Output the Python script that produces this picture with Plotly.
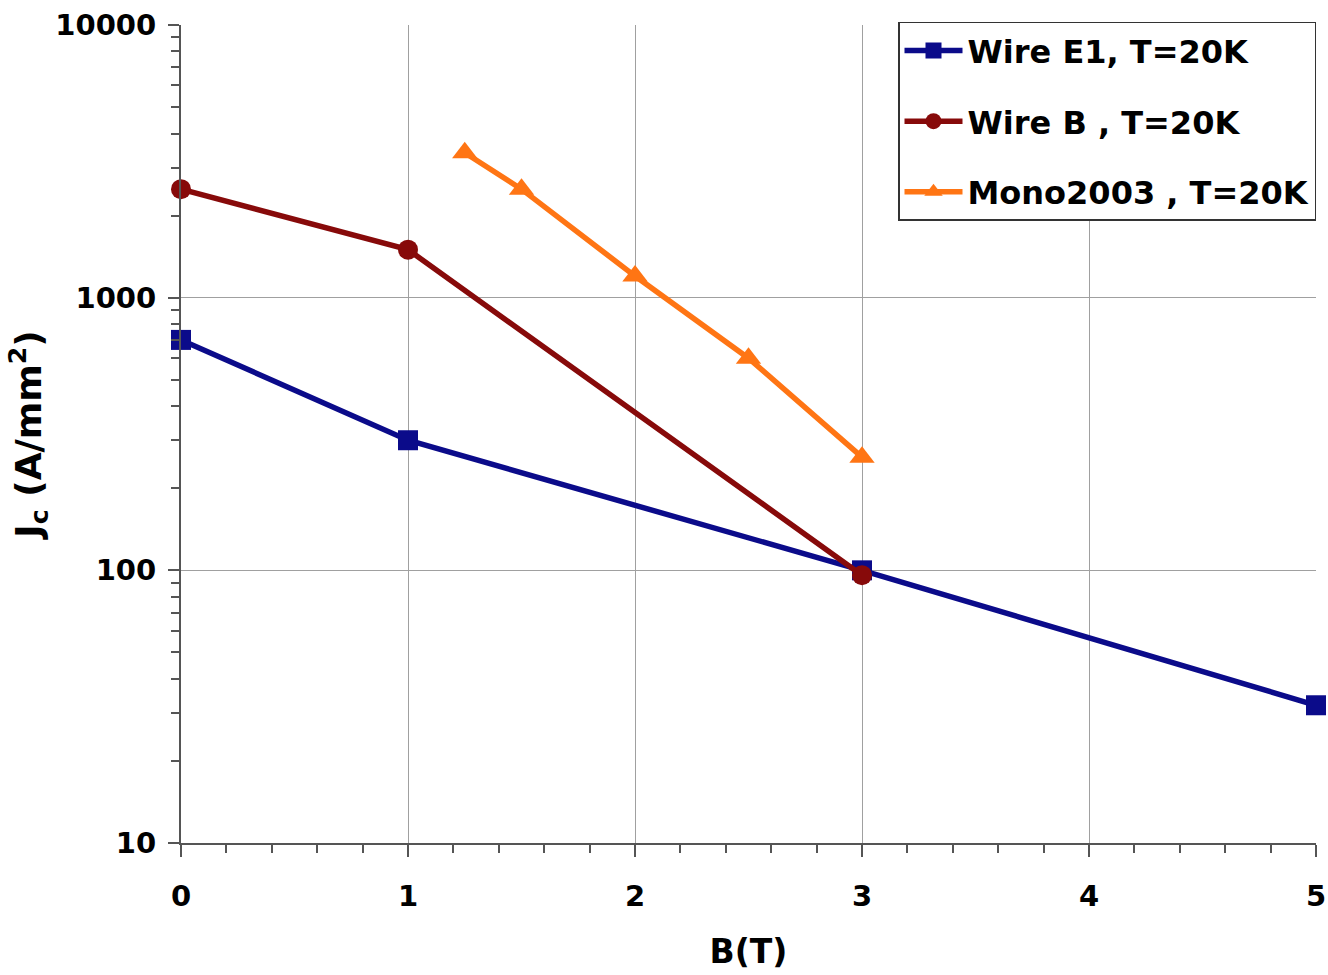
import plotly.graph_objects as go

# Data
e1_B = [0, 1, 3, 5]
e1_J = [700, 300, 100, 32]
wb_B = [0, 1, 3]
wb_J = [2500, 1500, 96]
mono_B = [1.25, 1.5, 2, 2.5, 3]
mono_J = [3400, 2500, 1200, 600, 260]

y_tickvals = [10, 100, 1000, 10000]
y_ticktext = ["10", "100", "1000", "10000"]

names = ["Wire E1, T=20K", "Wire B , T=20K", "Mono2003 , T=20K"]
colors = ["#0b0b8a", "#870a0a", "#ff7514"]

FONT = "DejaVu Sans, Liberation Sans, Arial, sans-serif"
AX = "#555555"

fig = go.Figure()
fig.add_trace(go.Scatter(x=e1_B, y=e1_J, name=names[0], mode="lines+markers",
                         line=dict(color=colors[0], width=5.5),
                         marker=dict(symbol="square", size=20, color=colors[0]),
                         cliponaxis=False, legendgroup="a"))
fig.add_trace(go.Scatter(x=wb_B, y=wb_J, name=names[1], mode="lines+markers",
                         line=dict(color=colors[1], width=5.5),
                         marker=dict(symbol="circle", size=20, color=colors[1]),
                         cliponaxis=False, legendgroup="b"))
fig.add_trace(go.Scatter(x=mono_B, y=mono_J, name=names[2], mode="lines+markers",
                         line=dict(color=colors[2], width=5.5),
                         marker=dict(symbol="triangle-up", size=22, color=colors[2]),
                         cliponaxis=False, legendgroup="c"))

fig.update_layout(
    width=1328, height=975,
    margin=dict(l=181, r=12, t=25, b=132),
    paper_bgcolor="white", plot_bgcolor="white",
    font=dict(family=FONT, color="black", size=29, weight="bold"),
    legend=dict(x=1.0, y=1.004, xanchor="right", yanchor="top",
                bordercolor="#333333", borderwidth=1.5, bgcolor="white",
                font=dict(family=FONT, size=32, color="black", weight="bold"),
                tracegroupgap=26, itemwidth=58, traceorder="grouped"),
    showlegend=True,
)
fig.update_xaxes(
    range=[0, 5], dtick=1, tick0=0, automargin=False,
    showgrid=True, gridcolor="#a0a0a0", gridwidth=1,
    showline=True, linecolor=AX, linewidth=2, zeroline=False,
    ticks="outside", ticklen=12, tickcolor=AX, tickwidth=1.5,
    ticklabelstandoff=14,
    minor=dict(dtick=0.2, ticks="outside", ticklen=8, tickcolor=AX, showgrid=False),
    tickfont=dict(family=FONT, size=29, color="black", weight="bold"),
    title=dict(text="B(T)", font=dict(family=FONT, size=33, color="black", weight="bold"), standoff=28),
)
fig.update_yaxes(
    type="log", range=[1, 4], tickmode="array", tickvals=y_tickvals, ticktext=y_ticktext,
    automargin=False,
    showgrid=True, gridcolor="#a0a0a0", gridwidth=1,
    showline=True, linecolor=AX, linewidth=2, zeroline=False,
    ticks="outside", ticklen=11, tickcolor=AX, tickwidth=1.5,
    ticklabelstandoff=6,
    minor=dict(dtick="D1", ticks="outside", ticklen=8, tickcolor=AX, showgrid=False),
    tickfont=dict(family=FONT, size=29, color="black", weight="bold"),
    title=dict(text="J<sub>c</sub> (A/mm<sup>2</sup>)",
               font=dict(family=FONT, size=36, color="black", weight="bold"), standoff=3),
)

fig.write_html("out.html")
